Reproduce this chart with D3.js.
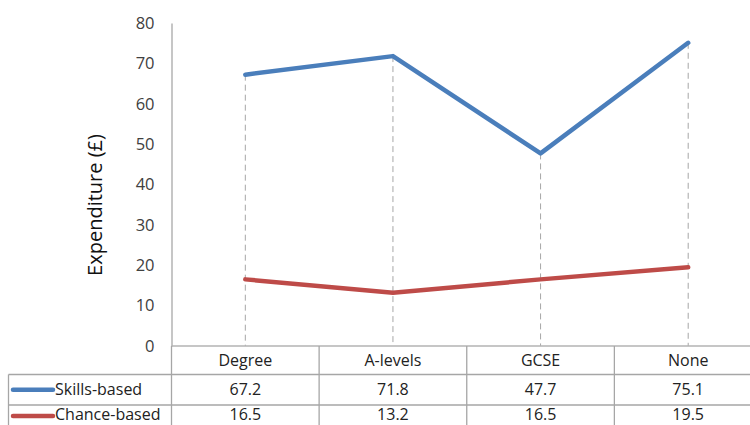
<!DOCTYPE html>
<html>
<head>
<meta charset="utf-8">
<script src="https://cdn.jsdelivr.net/npm/d3@7"></script>
<style>
  html, body { margin: 0; padding: 0; background: #fff; }
  svg { display: block; }
</style>
</head>
<body>
<svg id="chart" width="750" height="425"></svg>
<script>
// Average expenditure by highest qualification
const categories = ["Degree", "A-levels", "GCSE", "None"];
const seriesNames = ["Skills-based", "Chance-based"];
const skillsBased = [67.2, 71.8, 47.7, 75.1];
const chanceBased = [16.5, 13.2, 16.5, 19.5];
const yTicks = [0, 10, 20, 30, 40, 50, 60, 70, 80];
const yTitle = "Expenditure (£)";

const colors = ["#4a7ebb", "#be4b48"];
const series = [
  { name: seriesNames[0], values: skillsBased, color: colors[0] },
  { name: seriesNames[1], values: chanceBased, color: colors[1] }
];

const svg = d3.select("#chart");
const font = "'Open Sans', 'Noto Sans', sans-serif";

const plotLeft = 171.5, plotRight = 762, plotTop = 23, plotBottom = 346;
const tableLeft = 8.5, rowH = 30.5;
const headerBottom = 374.5;

const x = d3.scaleBand().domain(categories).range([plotLeft, plotRight]).padding(0);
const y = d3.scaleLinear().domain([0, 80]).range([plotBottom, plotTop]);

const gridColor = "#b3b3b3";

// Y axis
const yAxis = d3.axisLeft(y).tickValues(yTicks).tickSize(0).tickPadding(17);
const gy = svg.append("g").attr("transform", `translate(${plotLeft},0)`).call(yAxis);
gy.select(".domain").attr("stroke", gridColor).attr("stroke-width", 1.5);
gy.selectAll("text")
  .attr("font-family", font).attr("font-size", 16.5).attr("fill", "#404040");

// Axis title
svg.append("text")
  .attr("transform", `translate(102,205) rotate(-90)`)
  .attr("text-anchor", "middle")
  .attr("font-family", font).attr("font-size", 20).attr("fill", "#111")
  .text(yTitle);

// Drop lines from the highest point in each category down to the axis
svg.append("g").selectAll("line")
  .data(categories)
  .join("line")
  .attr("x1", d => x(d) + x.bandwidth() / 2)
  .attr("x2", d => x(d) + x.bandwidth() / 2)
  .attr("y1", (d, i) => y(d3.max(series, s => s.values[i])))
  .attr("y2", plotBottom)
  .attr("stroke", "#a6a6a6").attr("stroke-width", 1)
  .attr("stroke-dasharray", "6,4");

// Category axis line
svg.append("line")
  .attr("x1", plotLeft).attr("x2", 750)
  .attr("y1", plotBottom).attr("y2", plotBottom)
  .attr("stroke", gridColor).attr("stroke-width", 1.5);

// Series lines
const line = d3.line()
  .x((d, i) => x(categories[i]) + x.bandwidth() / 2)
  .y(d => y(d));

svg.append("g").selectAll("path")
  .data(series)
  .join("path")
  .attr("d", d => line(d.values))
  .attr("fill", "none")
  .attr("stroke", d => d.color)
  .attr("stroke-width", 4.5)
  .attr("stroke-linecap", "round")
  .attr("stroke-linejoin", "round");

// Data table
const table = svg.append("g");
const tableColor = "#a6a6a6";

// column separators
const colEdges = categories.map(c => x(c)).concat([plotRight]);
table.selectAll("line.col")
  .data(colEdges)
  .join("line")
  .attr("x1", d => d).attr("x2", d => d)
  .attr("y1", plotBottom).attr("y2", 430)
  .attr("stroke", tableColor).attr("stroke-width", 1.3);

// row separators
const rowLines = [headerBottom, headerBottom + rowH];
table.selectAll("line.row")
  .data(rowLines)
  .join("line")
  .attr("x1", tableLeft).attr("x2", 750)
  .attr("y1", d => d).attr("y2", d => d)
  .attr("stroke", tableColor).attr("stroke-width", 1.3);

// left border
table.append("line")
  .attr("x1", tableLeft).attr("x2", tableLeft)
  .attr("y1", headerBottom).attr("y2", 430)
  .attr("stroke", tableColor).attr("stroke-width", 1.3);

// header labels
table.selectAll("text.head")
  .data(categories)
  .join("text")
  .attr("x", d => x(d) + x.bandwidth() / 2)
  .attr("y", 366)
  .attr("text-anchor", "middle")
  .attr("font-family", font).attr("font-size", 16).attr("fill", "#222")
  .text(d => d);

// series rows
const rowBaselines = [395, 420];
series.forEach((s, r) => {
  const cy = headerBottom + rowH * r + rowH / 2;
  table.append("line")
    .attr("x1", 13).attr("x2", 53)
    .attr("y1", r === 0 ? cy : 416).attr("y2", r === 0 ? cy : 416)
    .attr("stroke", s.color).attr("stroke-width", 4.5)
    .attr("stroke-linecap", "round");
  table.append("text")
    .attr("x", 55).attr("y", rowBaselines[r])
    .attr("font-family", font).attr("font-size", 16).attr("fill", "#222")
    .text(s.name);
  table.selectAll(null)
    .data(s.values)
    .join("text")
    .attr("x", (d, i) => x(categories[i]) + x.bandwidth() / 2)
    .attr("y", rowBaselines[r])
    .attr("text-anchor", "middle")
    .attr("font-family", font).attr("font-size", 16).attr("fill", "#222")
    .text(d => d.toFixed(1));
});
</script>
</body>
</html>
